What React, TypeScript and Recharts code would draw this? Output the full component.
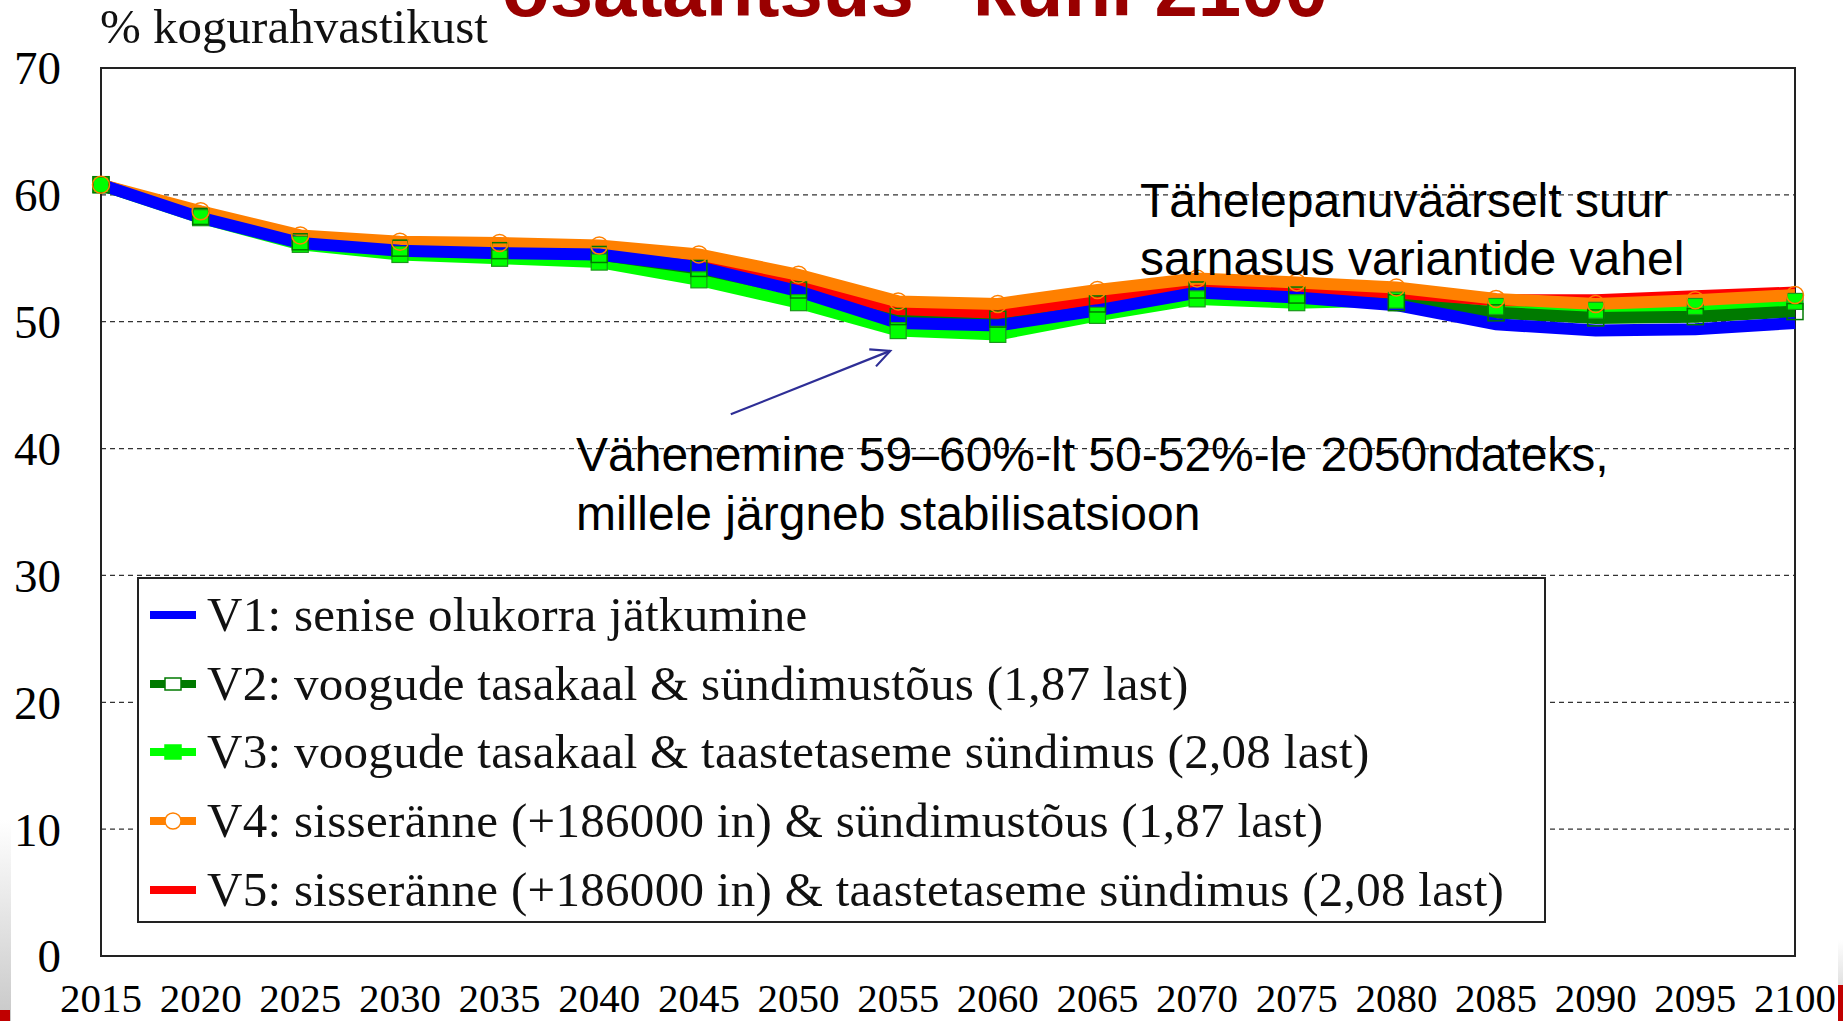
import {
  LineChart,
  Line,
  XAxis,
  YAxis,
  CartesianGrid,
  Legend,
  ReferenceArea,
  ReferenceLine,
} from "recharts";

const years = [2015, 2020, 2025, 2030, 2035, 2040, 2045, 2050, 2055, 2060, 2065, 2070, 2075, 2080, 2085, 2090, 2095, 2100];

const v1 = [60.8, 58.2, 56.2, 55.6, 55.4, 55.3, 54.3, 52.4, 49.9, 49.7, 50.9, 52.3, 51.9, 51.3, 49.8, 49.3, 49.4, 49.9];
const v2 = [60.8, 58.3, 56.3, 55.8, 55.6, 55.3, 54.2, 52.5, 50.4, 50.2, 51.4, 52.5, 52.1, 51.5, 50.7, 50.3, 50.4, 50.8];
const v3 = [60.8, 58.2, 56.1, 55.3, 55.0, 54.7, 53.3, 51.5, 49.3, 49.0, 50.5, 51.8, 51.5, 51.7, 51.2, 50.9, 51.2, 51.6];
const v4 = [60.8, 58.7, 56.8, 56.3, 56.2, 56.0, 55.3, 53.7, 51.6, 51.4, 52.5, 53.4, 53.1, 52.7, 51.8, 51.4, 51.7, 52.1];
const v5 = [60.8, 58.5, 56.5, 56.0, 55.8, 55.6, 54.8, 53.0, 51.0, 50.7, 51.8, 52.9, 52.6, 52.3, 51.7, 51.7, 52.0, 52.3];

const yTicks = [0, 10, 20, 30, 40, 50, 60, 70];

const names = [
  "V1: senise olukorra jätkumine",
  "V2: voogude tasakaal & sündimustõus (1,87 last)",
  "V3: voogude tasakaal & taastetaseme sündimus (2,08 last)",
  "V4: sisseränne (+186000 in) & sündimustõus (1,87 last)",
  "V5: sisseränne (+186000 in) & taastetaseme sündimus (2,08 last)",
];

const data = years.map((year, i) => ({
  year,
  v1: v1[i],
  v2: v2[i],
  v3: v3[i],
  v4: v4[i],
  v5: v5[i],
}));

const SERIF = '"Liberation Serif", "Times New Roman", serif';
const SANS = '"Liberation Sans", Arial, sans-serif';

// legend rows, in the order they appear in the box
const legendRows = [
  { name: names[0], color: "#0000ff", marker: "none" },
  { name: names[1], color: "#007a00", marker: "hollowSquare" },
  { name: names[2], color: "#00ff00", marker: "square" },
  { name: names[3], color: "#ff8000", marker: "circle" },
  { name: names[4], color: "#ff0000", marker: "none" },
];

const hollowSquare = (props: any) => (
  <rect
    key={"hs" + props.index}
    x={props.cx - 8}
    y={props.cy - 8}
    width={16}
    height={16}
    fill="none"
    stroke="#007a00"
    strokeWidth={1.5}
  />
);

const filledSquare = (props: any) => (
  <rect
    key={"fs" + props.index}
    x={props.cx - 8}
    y={props.cy - 8}
    width={16}
    height={16}
    fill="#00ff00"
    stroke="#1a9a1a"
    strokeWidth={1.2}
  />
);

const hollowCircle = (props: any) => (
  <circle
    key={"hc" + props.index}
    cx={props.cx}
    cy={props.cy}
    r={8.5}
    fill="none"
    stroke="#ff8000"
    strokeWidth={1.5}
  />
);

const XTick = ({ x, y, payload }: any) => (
  <text x={x} y={y + 56} textAnchor="middle" fontFamily={SERIF} fontSize={41} fill="#000">
    {payload.value}
  </text>
);

const YTick = ({ x, y, payload }: any) => (
  <text x={x - 40} y={y} dy="0.35em" textAnchor="end" fontFamily={SERIF} fontSize={47} fill="#000">
    {payload.value}
  </text>
);

const Arrow = (props: any) => {
  const { x1, y1, x2, y2 } = props;
  const a = Math.atan2(y2 - y1, x2 - x1);
  const len = 21;
  const spread = 0.45;
  const p1 = [x2 - len * Math.cos(a - spread), y2 - len * Math.sin(a - spread)];
  const p2 = [x2 - len * Math.cos(a + spread), y2 - len * Math.sin(a + spread)];
  return (
    <g stroke="#2e2e96" strokeWidth={2.2} fill="none">
      <line x1={x1} y1={y1} x2={x2} y2={y2} />
      <polyline points={`${p1[0]},${p1[1]} ${x2},${y2} ${p2[0]},${p2[1]}`} />
    </g>
  );
};

const LegendIcon = ({ color, marker }: any) => (
  <svg width={46} height={20} style={{ display: "block" }}>
    <line x1={0} y1={10} x2={46} y2={10} stroke={color} strokeWidth={8} />
    {marker === "hollowSquare" && (
      <rect x={15} y={4} width={16} height={12} fill="#fff" stroke={color} strokeWidth={1.5} />
    )}
    {marker === "square" && (
      <rect x={15} y={3} width={16} height={14} fill={color} stroke={color} strokeWidth={1.5} />
    )}
    {marker === "circle" && <circle cx={23} cy={10} r={8} fill="#fff" stroke={color} strokeWidth={1.5} />}
  </svg>
);

const LegendBox = () => (
  <div
    style={{
      boxSizing: "border-box",
      width: 1409,
      height: 346,
      background: "#fff",
      border: "2px solid #222",
      paddingTop: 2,
    }}
  >
    {legendRows.map((r) => (
      <div
        key={r.name}
        style={{ display: "flex", alignItems: "center", height: 68.6, paddingLeft: 11 }}
      >
        <LegendIcon color={r.color} marker={r.marker} />
        <span
          style={{
            marginLeft: 11,
            fontFamily: SERIF,
            fontSize: 49,
            letterSpacing: 0.3,
            lineHeight: "68px",
            color: "#111",
            whiteSpace: "nowrap",
          }}
        >
          {r.name}
        </span>
      </div>
    ))}
  </div>
);

export default function App() {
  return (
    <div style={{ position: "absolute", left: 0, top: 0, width: 1843, height: 1021, background: "#fff", overflow: "hidden" }}>
      <LineChart
        width={1843}
        height={1021}
        data={data}
        margin={{ top: 68, right: 48, bottom: 0, left: 0 }}
      >
        <CartesianGrid vertical={false} stroke="#333" strokeDasharray="5 4" strokeWidth={1.3} />
        <XAxis
          dataKey="year"
          type="number"
          domain={[2015, 2100]}
          ticks={years}
          height={65}
          axisLine={false}
          tickLine={false}
          tickSize={0}
          tickMargin={0}
          tick={<XTick />}
          interval={0}
        />
        <YAxis
          domain={[0, 70]}
          ticks={yTicks}
          width={101}
          axisLine={false}
          tickLine={false}
          tickSize={0}
          tickMargin={0}
          tick={<YTick />}
          interval={0}
        />
        <ReferenceArea x1={2015} x2={2100} y1={0} y2={70} fill="none" stroke="#222" strokeWidth={2} />
        <Line dataKey="v3" name={names[2]} stroke="#00ff00" strokeWidth={12} dot={filledSquare} isAnimationActive={false} />
        <Line dataKey="v2" name={names[1]} stroke="#007a00" strokeWidth={12} dot={hollowSquare} isAnimationActive={false} />
        <Line dataKey="v5" name={names[4]} stroke="#ff0000" strokeWidth={12} dot={false} isAnimationActive={false} />
        <Line dataKey="v4" name={names[3]} stroke="#ff8000" strokeWidth={12} dot={hollowCircle} isAnimationActive={false} />
        <Line dataKey="v1" name={names[0]} stroke="#0000ff" strokeWidth={12} dot={false} isAnimationActive={false} />
        <ReferenceLine
          segment={[{ x: 2046.6, y: 42.7 }, { x: 2054.6, y: 47.7 }]}
          ifOverflow="visible"
          shape={<Arrow />}
        />
        <Legend
          layout="vertical"
          align="center"
          verticalAlign="middle"
          content={<LegendBox />}
          wrapperStyle={{ position: "absolute", left: 137, top: 577, width: 1409, height: 346 }}
        />
      </LineChart>

      <svg
        width={1843}
        height={1021}
        style={{ position: "absolute", left: 0, top: 0, pointerEvents: "none" }}
      >
        <text x={502} y={16} fontFamily={SANS} fontWeight="bold" fontSize={78} fill="#990000">
          osatähtsus" kuni 2100
        </text>
        <text x={100} y={43} fontFamily={SERIF} fontSize={49} fill="#111">
          % kogurahvastikust
        </text>
        <text fontFamily={SANS} fontSize={48} fill="#000">
          <tspan x={1140} y={217}>Tähelepanuväärselt suur</tspan>
          <tspan x={1140} y={275}>sarnasus variantide vahel</tspan>
        </text>
        <text fontFamily={SANS} fontSize={48} fill="#000">
          <tspan x={576} y={471}>Vähenemine 59–60%-lt 50-52%-le 2050ndateks,</tspan>
          <tspan x={576} y={530}>millele järgneb stabilisatsioon</tspan>
        </text>
        <defs>
          <linearGradient id="edge" x1="0" y1="0" x2="0" y2="1">
            <stop offset="0" stopColor="#ffffff" />
            <stop offset="1" stopColor="#c8c8c8" />
          </linearGradient>
        </defs>
        <rect x={0} y={820} width={11} height={201} fill="url(#edge)" />
        <rect x={0} y={1010} width={10} height={11} fill="#c00000" />
        <rect x={1838} y={940} width={5} height={81} fill="url(#edge)" />
        <rect x={1838} y={985} width={5} height={36} fill="#c00000" />
      </svg>
    </div>
  );
}
